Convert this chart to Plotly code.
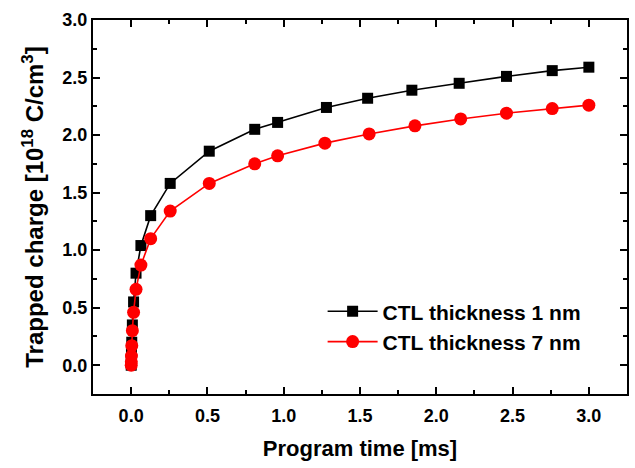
import plotly.graph_objects as go

# Program time [ms]
time_1nm = [0.0005, 0.001, 0.002, 0.004, 0.008, 0.016, 0.032, 0.064, 0.128, 0.256,
            0.512, 0.81, 0.96, 1.28, 1.55, 1.84, 2.15, 2.46, 2.76, 3.0]
charge_1nm = [0.0, 0.03, 0.1, 0.2, 0.35, 0.55, 0.8, 1.04, 1.30, 1.58,
              1.86, 2.05, 2.11, 2.24, 2.32, 2.39, 2.45, 2.51, 2.56, 2.59]

time_7nm = [0.0005, 0.001, 0.002, 0.004, 0.008, 0.016, 0.032, 0.064, 0.128, 0.256,
            0.512, 0.81, 0.96, 1.27, 1.56, 1.86, 2.16, 2.46, 2.76, 3.0]
charge_7nm = [0.0, 0.03, 0.08, 0.17, 0.30, 0.46, 0.66, 0.87, 1.10, 1.34,
              1.58, 1.75, 1.82, 1.93, 2.01, 2.08, 2.14, 2.19, 2.23, 2.26]

series_names = ["CTL thickness 1 nm", "CTL thickness 7 nm"]

FONT = "Liberation Sans, Arial, sans-serif"

fig = go.Figure()
fig.add_trace(go.Scatter(
    x=time_1nm, y=charge_1nm, mode="lines+markers", name=series_names[0],
    line=dict(color="black", width=1.6),
    marker=dict(symbol="square", size=11, color="black"),
))
fig.add_trace(go.Scatter(
    x=time_7nm, y=charge_7nm, mode="lines+markers", name=series_names[1],
    line=dict(color="#ff0000", width=1.6),
    marker=dict(symbol="circle", size=13, color="#ff0000"),
))

axis_common = dict(
    showline=True, linecolor="black", linewidth=2, mirror="ticks",
    ticks="inside", ticklen=7, tickwidth=1.5, tickcolor="black",
    showgrid=False, zeroline=False,
    tickfont=dict(family=FONT, size=18, color="black", weight="bold"),
)

fig.update_xaxes(
    range=[-0.25, 3.25], tick0=0, dtick=0.5, tickformat=".1f",
    minor=dict(ticks="inside", ticklen=4, tickwidth=1.5, tickcolor="black", dtick=0.25),
    title=dict(text="Program time [ms]", font=dict(family=FONT, size=22, color="black", weight="bold"),
               standoff=16),
    ticklabelstandoff=4,
    **axis_common,
)
fig.update_yaxes(
    range=[-0.25, 3.0], tick0=0, dtick=0.5, tickformat=".1f",
    minor=dict(ticks="inside", ticklen=4, tickwidth=1.5, tickcolor="black", dtick=0.25),
    title=dict(text="Trapped charge [10<sup>18</sup> C/cm<sup>3</sup>]",
               font=dict(family=FONT, size=24, color="black", weight="bold"), standoff=12),
    ticklabelstandoff=0,
    **axis_common,
)

fig.update_layout(
    width=635, height=468,
    margin=dict(l=93, r=6, t=20, b=74),
    paper_bgcolor="white", plot_bgcolor="white",
    showlegend=True,
    legend=dict(
        x=0.43, y=0.275, xanchor="left", yanchor="top",
        bgcolor="rgba(0,0,0,0)", borderwidth=0,
        font=dict(family=FONT, size=21, color="black", weight="bold"),
        tracegroupgap=0, itemwidth=50,
    ),
)

fig.write_html("out.html")
